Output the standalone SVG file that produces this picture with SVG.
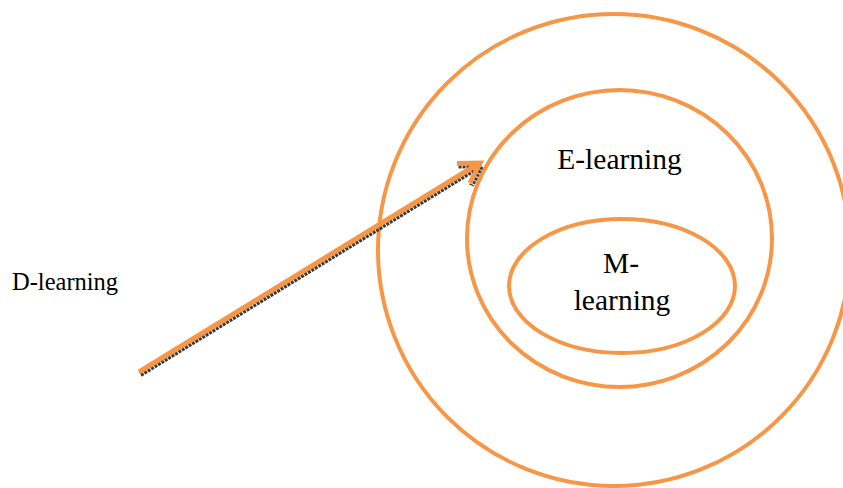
<svg xmlns="http://www.w3.org/2000/svg" width="843" height="488" viewBox="0 0 843 488">
  <style>
    .ring { fill: none; stroke: #F79646; stroke-width: 4; }
    .lbl { font-family: "Liberation Serif", "Times New Roman", serif; fill: #000; }
    .arrow { fill: none; stroke: #F79646; stroke-width: 5; stroke-linejoin: miter; }
    .shadow { fill: none; stroke: #3a3a3a; stroke-width: 5; stroke-linejoin: miter; stroke-dasharray: 3 1; }
  </style>
  <rect width="843" height="488" fill="#fff"/>
  <g id="d-learning">
    <circle class="ring" cx="614" cy="250" r="236"/>
    <text class="lbl" x="12" y="290" font-size="24.5">D-learning</text>
  </g>
  <g id="e-learning">
    <ellipse class="ring" cx="619.5" cy="238.5" rx="152.5" ry="148.5"/>
    <text class="lbl" x="619.5" y="169" font-size="29.5" text-anchor="middle">E-learning</text>
  </g>
  <g id="m-learning">
    <ellipse class="ring" cx="622" cy="286" rx="113" ry="67"/>
    <text class="lbl" x="621" y="273" font-size="29.5" text-anchor="middle">M-</text>
    <text class="lbl" x="622" y="310" font-size="29.5" text-anchor="middle">learning</text>
  </g>
  <g id="connectors">
    <g transform="translate(1.5,2.5)">
      <path class="shadow" d="M139,372 L478,164 M457,163.5 L480,163 L470,183"/>
    </g>
    <path class="arrow" d="M139,372 L478,164 M457,163.5 L480,163 L470,183"/>
  </g>
</svg>
